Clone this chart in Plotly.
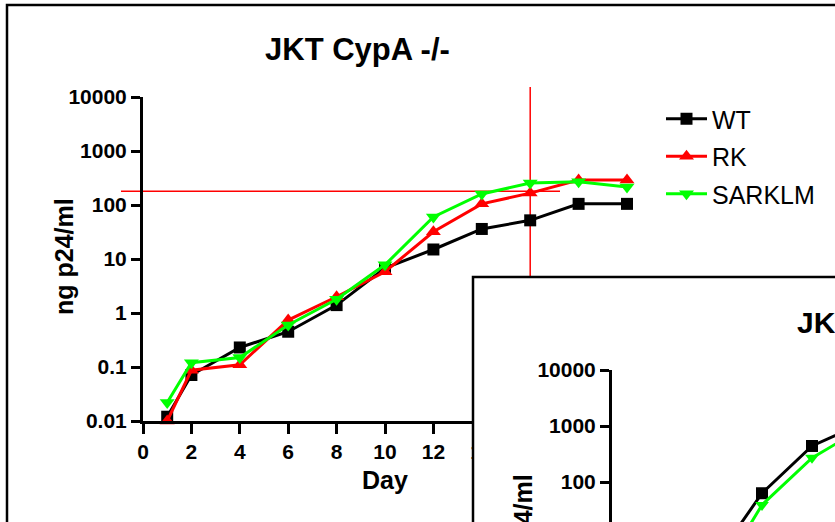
import math
import plotly.graph_objects as go

W, H = 835, 522

# ---- data: main panel (JKT CypA -/-) ----
days = [1, 2, 4, 6, 8, 10, 12, 14, 16, 18, 20]
wt = [0.012, 0.071, 0.23, 0.45, 1.4, 6.8, 15, 36, 52, 105, 105]
rk = [0.010, 0.087, 0.11, 0.74, 2.0, 5.8, 32, 105, 166, 290, 290]
sarklm = [0.022, 0.12, 0.15, 0.60, 1.8, 7.8, 60, 160, 255, 270, 215]

# ---- data: second panel, only its top-left corner is visible ----
inset_days = [4, 6, 8, 10]
inset_wt = [3.3, 63, 440, 1100]
inset_sarklm = [1.3, 39, 270, 900]

y_ticks = [0.01, 0.1, 1, 10, 100, 1000, 10000]
y_ticktext = ["0.01", "0.1", "1", "10", "100", "1000", "10000"]
inset_ticks = [10, 100, 1000, 10000]
inset_ticktext = ["10", "100", "1000", "10000"]
x_ticks = [0, 2, 4, 6, 8, 10, 12, 14, 16, 18, 20]

# red cross-hair (cursor left on the figure)
cross_day, cross_value = 16, 180

FONT = "Liberation Sans, Arial, sans-serif"
BLACK, RED, GREEN = "#000000", "#ff0000", "#00ff00"


def px(x):
    return x / W


def py(y):
    return 1 - y / H


# main plot area in pixels
MX0, MX1 = 143, 627
MY0, MY1 = 421, 97
XR = [0, 20]
YR = [-2, 4]


def main_x(d):
    return px(MX0 + (d - XR[0]) / (XR[1] - XR[0]) * (MX1 - MX0))


def main_y(v):
    return py(MY0 - (math.log10(v) - YR[0]) / (YR[1] - YR[0]) * (MY0 - MY1))


# inset geometry in pixels
IX_AXIS, IY_TOP, I_DEC, I_DAY = 612, 370, 56, 25
inset_yr = [4 - (H - IY_TOP) / I_DEC, 4]
inset_xr = [0, (W - IX_AXIS) / I_DAY]

fig = go.Figure()

series = [
    ("WT", wt, BLACK, "square", 12),
    ("RK", rk, RED, "triangle-up", 13),
    ("SARKLM", sarklm, GREEN, "triangle-down", 13),
]
for name, vals, col, sym, size in series:
    fig.add_trace(go.Scatter(
        x=days, y=vals, name=name, mode="lines+markers",
        line=dict(color=col, width=3),
        marker=dict(symbol=sym, size=size, color=col),
        cliponaxis=False, legendgroup=name,
        xaxis="x", yaxis="y"
    ))

# white cover for the second panel
fig.add_trace(go.Scatter(x=[], y=[], xaxis="x2", yaxis="y2",
                         showlegend=False, hoverinfo="skip"))

for vals, col, sym in [(inset_wt, BLACK, "square"), (inset_sarklm, GREEN, "triangle-down")]:
    fig.add_trace(go.Scatter(
        x=inset_days, y=vals, mode="lines+markers", showlegend=False,
        line=dict(color=col, width=3),
        marker=dict(symbol=sym, size=12, color=col),
        xaxis="x3", yaxis="y3"
    ))

axis_common = dict(showgrid=False, zeroline=False, showline=True,
                   linecolor=BLACK, linewidth=3, ticks="outside",
                   tickcolor=BLACK, tickwidth=3, automargin=False,
                   tickfont=dict(family=FONT, size=21, color=BLACK, weight="bold"))

fig.update_layout(
    width=W, height=H,
    margin=dict(l=0, r=0, t=0, b=0),
    paper_bgcolor="white", plot_bgcolor="white",
    font=dict(family=FONT, color=BLACK),
    xaxis=dict(axis_common, domain=[px(MX0), px(MX1)], range=XR,
               tickvals=x_ticks, ticklen=10, anchor="y"),
    yaxis=dict(axis_common, domain=[py(MY0), py(MY1)], type="log", range=YR,
               tickvals=y_ticks, ticktext=y_ticktext, ticklen=9, anchor="x"),
    xaxis2=dict(domain=[px(473), 1], range=[0, 1], visible=False, anchor="y2"),
    yaxis2=dict(domain=[0, py(277)], range=[0, 1], visible=False, anchor="x2"),
    xaxis3=dict(domain=[px(IX_AXIS), 1], range=inset_xr, visible=False, anchor="y3"),
    yaxis3=dict(axis_common, domain=[0, py(IY_TOP)], type="log", range=inset_yr,
                tickvals=inset_ticks, ticktext=inset_ticktext, ticklen=9, anchor="x3"),
    legend=dict(x=px(661), y=py(96), xanchor="left", yanchor="top",
                font=dict(family=FONT, size=25, color=BLACK),
                itemwidth=41, tracegroupgap=2, bgcolor="rgba(0,0,0,0)"),
    showlegend=True,
)

fig.update_layout(
    shapes=[
        # outer frame of the page
        dict(type="rect", xref="paper", yref="paper", layer="below",
             x0=px(7), y0=py(5), x1=px(W + 30), y1=py(H + 30),
             line=dict(color=BLACK, width=2.5), fillcolor="rgba(0,0,0,0)"),
        # cross-hair
        dict(type="line", xref="paper", yref="paper", layer="below",
             x0=px(121), x1=px(560), y0=main_y(cross_value), y1=main_y(cross_value),
             line=dict(color=RED, width=1.5)),
        dict(type="line", xref="paper", yref="paper", layer="below",
             x0=main_x(cross_day), x1=main_x(cross_day), y0=py(87), y1=py(440),
             line=dict(color=RED, width=1.5)),
        # frame of the overlapping second panel
        dict(type="rect", xref="paper", yref="paper", layer="above",
             x0=px(473), y0=py(277), x1=px(W + 30), y1=py(H + 30),
             line=dict(color=BLACK, width=2.5), fillcolor="rgba(0,0,0,0)"),
    ],
    annotations=[
        dict(text="JKT CypA -/-", xref="paper", yref="paper", x=px(357), y=py(49),
             showarrow=False, xanchor="center", yanchor="middle",
             font=dict(family=FONT, size=31, weight="bold")),
        dict(text="ng p24/ml", xref="paper", yref="paper", x=px(64), y=py(257),
             showarrow=False, textangle=-90, xanchor="center", yanchor="middle",
             font=dict(family=FONT, size=25, weight="bold")),
        dict(text="Day", xref="paper", yref="paper", x=px(385), y=py(480),
             showarrow=False, xanchor="center", yanchor="middle",
             font=dict(family=FONT, size=25, weight="bold")),
        dict(text="JKT", xref="paper", yref="paper", x=px(795), y=py(322),
             showarrow=False, xanchor="left", yanchor="middle",
             font=dict(family=FONT, size=30, weight="bold")),
        dict(text="ng p24/ml", xref="paper", yref="paper", x=px(523), y=py(533),
             showarrow=False, textangle=-90, xanchor="center", yanchor="middle",
             font=dict(family=FONT, size=25, weight="bold")),
    ],
)

# the page must start at the window's top-left corner (no default body margin)
fig.write_html("out.html", config={"displayModeBar": False},
               post_script="document.body.style.margin='0';")
